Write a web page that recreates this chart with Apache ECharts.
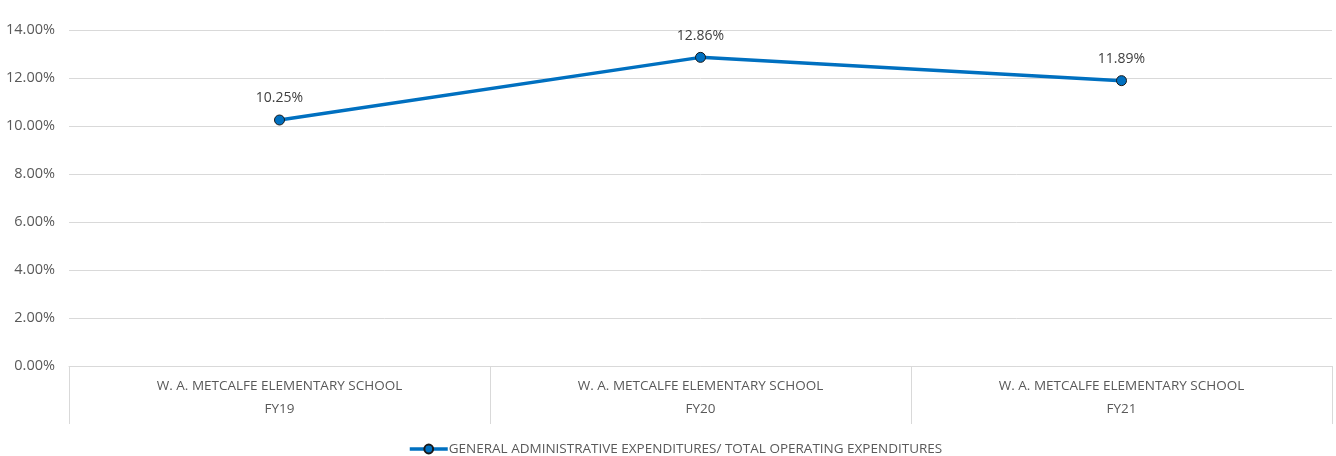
<!DOCTYPE html>
<html><head><meta charset="utf-8">
<script src="https://cdn.jsdelivr.net/npm/echarts@6/dist/echarts.min.js"></script>
<style>html,body{margin:0;padding:0;background:#fff}#c{width:1336px;height:456px}</style>
</head><body><div id="c"></div>
<script>
const schools = ["W. A. METCALFE ELEMENTARY SCHOOL","W. A. METCALFE ELEMENTARY SCHOOL","W. A. METCALFE ELEMENTARY SCHOOL"];
const years = ["FY19","FY20","FY21"];
const values = [10.25, 12.86, 11.89];
const seriesName = "GENERAL ADMINISTRATIVE EXPENDITURES/ TOTAL OPERATING EXPENDITURES";
const categories = years.map((y,i)=>schools[i]+"\n"+y);
const FONT = "'Open Sans',sans-serif";
const chart = echarts.init(document.getElementById('c'));
chart.setOption({
  animation:false,
  textStyle:{fontFamily:FONT},
  grid:{left:69,right:4,top:30,bottom:90,containLabel:false},
  legend:{top:437,left:403,itemWidth:38,itemHeight:11,itemGap:0,
    lineStyle:{width:3.5},
    textStyle:{color:'#595959',fontSize:13.5,fontFamily:FONT,padding:[0,0,0,-4]},data:[seriesName]},
  xAxis:{type:'category',data:categories,boundaryGap:true,
    axisLine:{lineStyle:{color:'#d9d9d9',width:1}},
    axisTick:{show:true,length:58,alignWithLabel:false,lineStyle:{color:'#d9d9d9'}},
    axisLabel:{color:'#595959',fontSize:13.5,fontFamily:FONT,lineHeight:23,margin:9,interval:0}},
  yAxis:{type:'value',min:0,max:14,interval:2,
    axisLine:{show:false},axisTick:{show:false},
    splitLine:{lineStyle:{color:'#d9d9d9',width:1}},
    axisLabel:{color:'#595959',fontSize:14.5,fontFamily:FONT,margin:14,formatter:v=>v.toFixed(2)+'%'}},
  series:[{name:seriesName,type:'line',data:values,
    lineStyle:{color:'#0070C0',width:3.5},
    itemStyle:{color:'#0070C0',borderColor:'#1a1a1a',borderWidth:1},
    symbol:'circle',symbolSize:10,
    label:{show:true,position:'top',distance:9,color:'#404040',fontSize:14,fontFamily:FONT,
      formatter:p=>p.value.toFixed(2)+'%'}}]
});
</script></body></html>
